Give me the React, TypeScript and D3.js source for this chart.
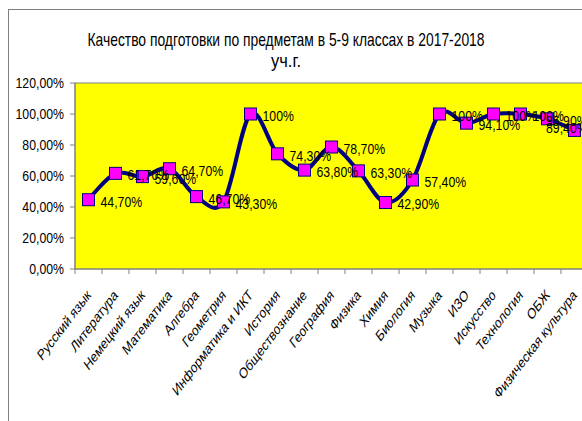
import React from 'react';
import * as d3 from 'd3';

const categories = [
  'Русский язык', 'Литература', 'Немецкий язык', 'Математика', 'Алгебра', 'Геометрия',
  'Информатика и ИКТ', 'История', 'Обществознание', 'География', 'Физика', 'Химия',
  'Биология', 'Музыка', 'ИЗО', 'Искусство', 'Технология', 'ОБЖ', 'Физическая культура',
];
const values = [44.7, 61.7, 59.6, 64.7, 46.7, 43.3, 100, 74.3, 63.8, 78.7, 63.3, 42.9, 57.4, 100, 94.1, 100, 100, 96.9, 89.4];
const yTicks = [0, 20, 40, 60, 80, 100, 120];
const titleLines = ['Качество подготовки по предметам в 5-9 классах в 2017-2018', 'уч.г.'];

const W = 582;
const H = 421;
const plot = { left: 75, top: 83, bottom: 269, step: 27 };
const font = 'Arial, "Liberation Sans", sans-serif';

const fmtValue = (v: number) => (v === 100 ? '100%' : v.toFixed(2).replace('.', ',') + '%');
const fmtTick = (v: number) => v.toFixed(2).replace('.', ',') + '%';

export default function App() {
  const x = d3.scaleBand<string>()
    .domain(categories)
    .range([plot.left, plot.left + plot.step * categories.length]);
  const y = d3.scaleLinear().domain([0, 120]).range([plot.bottom, plot.top]);
  const cx = (i: number) => (x(categories[i]) as number) + x.bandwidth() / 2;

  const line = d3.line<number>()
    .x((_, i) => cx(i))
    .y(d => y(d))
    .curve(d3.curveCardinal.tension(0));

  const plotRight = plot.left + plot.step * categories.length;
  const m = 12;

  return (
    <svg width={W} height={H} style={{ position: 'absolute', left: 0, top: 0, background: '#fff' }} fontFamily={font}>
      {/* chart frame, cut at the right like the reference */}
      <rect x={8.5} y={9.5} width={W} height={H} fill="#fff" stroke="#7f7f7f" strokeWidth={1} />

      {titleLines.map((t, i) => (
        <text key={t} x={286} y={46 + i * 21} textAnchor="middle" fontSize={18.5}
          textLength={i === 0 ? 397 : 30} lengthAdjust="spacingAndGlyphs" fill="#000">{t}</text>
      ))}

      <rect x={plot.left} y={plot.top} width={plotRight - plot.left} height={plot.bottom - plot.top}
        fill="#ffff00" stroke="#808080" strokeWidth={1} />

      {/* y axis */}
      <line x1={plot.left} x2={plot.left} y1={plot.top} y2={plot.bottom} stroke="#808080" />
      {yTicks.map(t => (
        <g key={t}>
          <line x1={plot.left - 5} x2={plot.left} y1={y(t)} y2={y(t)} stroke="#808080" />
          <text transform={`translate(64,${y(t)}) scale(0.82,1)`} dy="0.36em" textAnchor="end" fontSize={15} fill="#000">
            {fmtTick(t)}
          </text>
        </g>
      ))}

      {/* x axis */}
      <line x1={plot.left} x2={plotRight} y1={plot.bottom} y2={plot.bottom} stroke="#808080" />
      {categories.map(c => (
        <line key={'t' + c} x1={x(c)} x2={x(c)} y1={plot.bottom} y2={plot.bottom + 5} stroke="#808080" />
      ))}
      {categories.map((c, i) => (
        <text key={'l' + c} transform={`translate(${cx(i) + 3},296) scale(0.76,1) rotate(-45)`}
          textAnchor="end" fontSize={15} fill="#000">{c}</text>
      ))}

      {/* series */}
      <path d={line(values) || ''} fill="none" stroke="#000080" strokeWidth={4} strokeLinejoin="round" />
      {values.map((v, i) => (
        <rect key={'m' + i} x={cx(i) - m / 2} y={y(v) - m / 2} width={m} height={m}
          fill="#ff00ff" stroke="#000080" strokeWidth={1} />
      ))}
      {values.map((v, i) => {
        const lx = Math.min(cx(i) + 12, plotRight - 42);
        const ly = i === values.length - 1 ? y(v) - 3 : y(v) + 1.5;
        return (
          <text key={'v' + i} transform={`translate(${lx},${ly}) scale(0.82,1)`} dy="0.36em"
            fontSize={15} fill="#000">{fmtValue(v)}</text>
        );
      })}
    </svg>
  );
}
